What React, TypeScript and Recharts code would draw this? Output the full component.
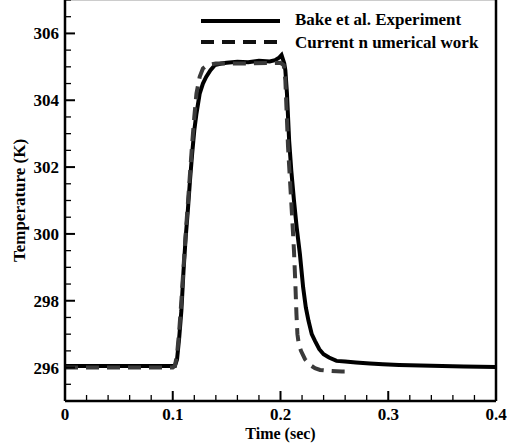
import { LineChart, Line, XAxis, YAxis, ReferenceLine } from 'recharts'

// Bake et al. experiment (time in s, temperature in K)
const expTime = [0, 0.05, 0.1, 0.102, 0.104, 0.106, 0.108, 0.11, 0.112, 0.114, 0.116, 0.118, 0.12, 0.122, 0.125, 0.128, 0.131, 0.135, 0.139, 0.145, 0.15, 0.16, 0.17, 0.18, 0.19, 0.195, 0.199, 0.201, 0.2035, 0.2045, 0.206, 0.208, 0.21, 0.2125, 0.215, 0.218, 0.221, 0.2235, 0.226, 0.229, 0.232, 0.236, 0.24, 0.245, 0.252, 0.26, 0.27, 0.283, 0.295, 0.31, 0.33, 0.35, 0.37, 0.4]
const expTemp = [296.05, 296.05, 296.05, 296.05, 296.25, 296.9, 297.7, 298.9, 299.9, 300.7, 301.6, 302.4, 303.1, 303.6, 304.2, 304.5, 304.7, 304.9, 305.05, 305.1, 305.12, 305.15, 305.14, 305.18, 305.16, 305.2, 305.28, 305.35, 305.1, 304.9, 304.2, 302.8, 301.9, 301.0, 300.2, 299.4, 298.4, 297.8, 297.4, 297.0, 296.8, 296.55, 296.4, 296.3, 296.2, 296.18, 296.15, 296.12, 296.1, 296.08, 296.06, 296.05, 296.03, 296.02]

// Current numerical work
const numTime = [0, 0.1, 0.102, 0.104, 0.106, 0.108, 0.11, 0.112, 0.114, 0.116, 0.118, 0.12, 0.122, 0.125, 0.128, 0.132, 0.14, 0.17, 0.2, 0.203, 0.2045, 0.2055, 0.207, 0.209, 0.211, 0.2125, 0.2138, 0.2148, 0.2157, 0.217, 0.219, 0.2227, 0.2274, 0.232, 0.2367, 0.246, 0.257, 0.265]
const numTemp = [296.0, 296.0, 296.05, 296.4, 297.1, 298.0, 299.0, 300.0, 300.9, 301.8, 302.7, 303.5, 304.2, 304.7, 304.95, 305.05, 305.1, 305.1, 305.12, 305.05, 304.6, 303.8, 302.6, 301.5, 300.4, 299.5, 298.5, 297.6, 297.0, 296.7, 296.5, 296.25, 296.08, 295.98, 295.93, 295.9, 295.88, 295.88]

const xTicks = [0, 0.02, 0.04, 0.06, 0.08, 0.1, 0.12, 0.14, 0.16, 0.18, 0.2, 0.22, 0.24, 0.26, 0.28, 0.3, 0.32, 0.34, 0.36, 0.38, 0.4]
const yTicks = [295, 295.5, 296, 296.5, 297, 297.5, 298, 298.5, 299, 299.5, 300, 300.5, 301, 301.5, 302, 302.5, 303, 303.5, 304, 304.5, 305, 305.5, 306, 306.5, 307]
const majorX = [0, 0.1, 0.2, 0.3, 0.4]
const majorY = [296, 298, 300, 302, 304, 306]

const expData = expTime.map((t, i) => ({ t, temp: expTemp[i] }))
const numData = numTime.map((t, i) => ({ t, temp: numTemp[i] }))

const font = '"Liberation Serif", "Times New Roman", serif'

const XTick = (props: any) => {
  const { x, y, payload } = props
  const v = payload.value
  const major = majorX.some((m) => Math.abs(m - v) < 1e-9)
  return (
    <g>
      <line x1={x} x2={x} y1={y} y2={y - (major ? 10 : 6)} stroke="#000" strokeWidth={major ? 2 : 1.3} />
      {major && (
        <text x={x} y={y + 19} textAnchor="middle" fontFamily={font} fontWeight="bold" fontSize={17} fill="#000">
          {v === 0 ? '0' : v.toFixed(1)}
        </text>
      )}
    </g>
  )
}

const YTick = (props: any) => {
  const { x, y, payload } = props
  const v = payload.value
  const major = majorY.includes(v)
  return (
    <g>
      <line x1={x} x2={x + (major ? 10 : 6)} y1={y} y2={y} stroke="#000" strokeWidth={major ? 2 : 1.3} />
      {major && (
        <text x={x - 6} y={y} dy="0.35em" textAnchor="end" fontFamily={font} fontWeight="bold" fontSize={17} fill="#000">
          {v}
        </text>
      )}
    </g>
  )
}

const LegendBox = () => (
  <svg width={507} height={60} style={{ position: 'absolute', left: 0, top: 0, pointerEvents: 'none' }}>
    <line x1={201} x2={280} y1={21} y2={21} stroke="#000" strokeWidth={4} />
    <line x1={201} x2={277} y1={42} y2={42} stroke="#111" strokeWidth={4} strokeDasharray="13 8" />
    <text x={295} y={25} fontFamily={font} fontWeight="bold" fontSize={17} fill="#000">Bake et al. Experiment</text>
    <text x={295} y={48} fontFamily={font} fontWeight="bold" fontSize={17} fill="#000">Current n umerical work</text>
  </svg>
)

export default function App() {
  return (
    <div style={{ position: 'absolute', left: 0, top: 0, width: 507, height: 446, background: '#fff' }}>
      <LineChart width={507} height={446} margin={{ top: 0, right: 11, left: 5, bottom: 0 }}>
        <XAxis
          dataKey="t"
          type="number"
          domain={[0, 0.4]}
          ticks={xTicks}
          interval={0}
          tick={<XTick />}
          tickLine={false}
          tickSize={0}
          tickMargin={0}
          height={45}
          axisLine={{ stroke: '#000', strokeWidth: 2.5 }}
          allowDuplicatedCategory={false}
          label={{ value: 'Time (sec)', position: 'insideBottom', offset: 7, fontFamily: font, fontWeight: 'bold', fontSize: 16, fill: '#000' }}
        />
        <YAxis
          type="number"
          domain={[295, 307]}
          ticks={yTicks}
          interval={0}
          tick={<YTick />}
          tickLine={false}
          tickSize={0}
          tickMargin={0}
          width={60}
          axisLine={{ stroke: '#000', strokeWidth: 2.5 }}
          label={{ value: 'Temperature (K)', angle: -90, position: 'insideLeft', offset: 14, style: { textAnchor: 'middle' }, fontFamily: font, fontWeight: 'bold', fontSize: 17, fill: '#000' }}
        />
        <ReferenceLine y={307} stroke="#999" strokeWidth={1} />
        <ReferenceLine x={0.4} stroke="#000" strokeWidth={2.5} />
        <Line data={expData} dataKey="temp" type="linear" stroke="#000" strokeWidth={4} dot={false} isAnimationActive={false} />
        <Line data={numData} dataKey="temp" type="linear" stroke="#3a3a3a" strokeWidth={4} strokeDasharray="13 8" dot={false} isAnimationActive={false} />
      </LineChart>
      <LegendBox />
    </div>
  )
}
